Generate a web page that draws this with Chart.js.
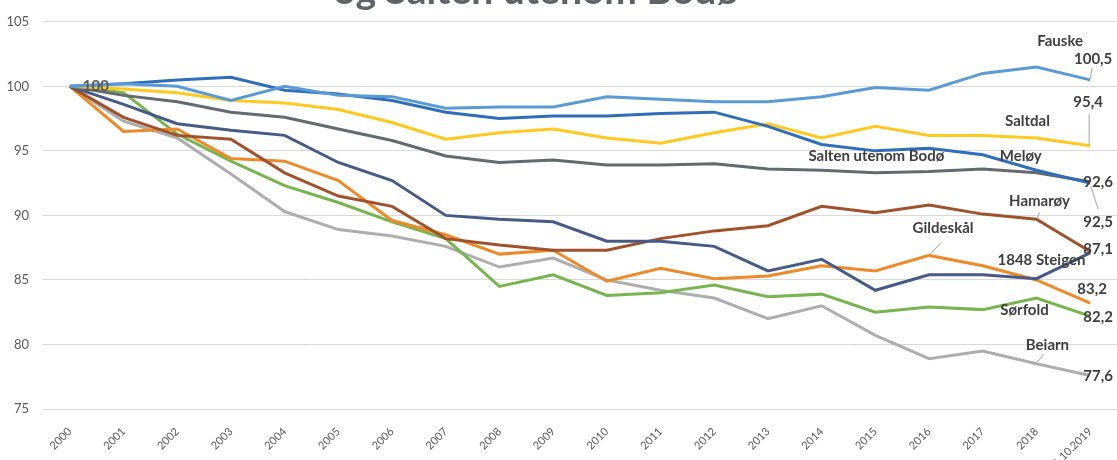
<!DOCTYPE html>
<html>
<head>
<meta charset="utf-8">
<title>Befolkningsutvikling Salten</title>
<script src="https://cdn.jsdelivr.net/npm/chart.js@4/dist/chart.umd.min.js"></script>
<style>
  body { margin: 0; background: #fff; }
  #wrap { width: 1117px; height: 460px; position: relative; }
</style>
</head>
<body>
<div id="wrap"><canvas id="popChart"></canvas></div>
<script>
// Indeks, 2000 = 100
const years = ['2000', '2001', '2002', '2003', '2004', '2005', '2006', '2007', '2008', '2009',
  '2010', '2011', '2012', '2013', '2014', '2015', '2016', '2017', '2018', '1.10.2019'];
const yTicks = [75, 80, 85, 90, 95, 100, 105];

const fauske    = [100, 100.2, 100.0, 98.9, 100.0, 99.3, 99.2, 98.3, 98.4, 98.4, 99.2, 99.0, 98.8, 98.8, 99.2, 99.9, 99.7, 101.0, 101.5, 100.5];
const meloy     = [100, 100.2, 100.5, 100.7, 99.7, 99.4, 98.9, 98.0, 97.5, 97.7, 97.7, 97.9, 98.0, 96.9, 95.5, 95.0, 95.2, 94.7, 93.5, 92.5];
const saltdal   = [100, 99.8, 99.5, 98.9, 98.7, 98.2, 97.2, 95.9, 96.4, 96.7, 96.0, 95.6, 96.4, 97.1, 96.0, 96.9, 96.2, 96.2, 96.0, 95.4];
const saltenUtenomBodo = [100, 99.3, 98.8, 98.0, 97.6, 96.7, 95.8, 94.6, 94.1, 94.3, 93.9, 93.9, 94.0, 93.6, 93.5, 93.3, 93.4, 93.6, 93.3, 92.6];
const steigen   = [100, 98.6, 97.1, 96.6, 96.2, 94.1, 92.7, 90.0, 89.7, 89.5, 88.0, 88.0, 87.6, 85.7, 86.6, 84.2, 85.4, 85.4, 85.1, 87.1];
const hamaroy   = [100, 97.6, 96.2, 95.9, 93.3, 91.5, 90.7, 88.2, 87.7, 87.3, 87.3, 88.2, 88.8, 89.2, 90.7, 90.2, 90.8, 90.1, 89.7, 87.2];
const gildeskal = [100, 96.5, 96.7, 94.4, 94.2, 92.7, 89.6, 88.5, 87.0, 87.3, 84.9, 85.9, 85.1, 85.3, 86.1, 85.7, 86.9, 86.1, 85.0, 83.2];
const sorfold   = [100, 99.5, 96.3, 94.2, 92.3, 91.0, 89.5, 88.2, 84.5, 85.4, 83.8, 84.0, 84.6, 83.7, 83.9, 82.5, 82.9, 82.7, 83.6, 82.2];
const beiarn    = [100, 97.3, 96.0, 93.2, 90.3, 88.9, 88.4, 87.6, 86.0, 86.7, 85.0, 84.2, 83.6, 82.0, 83.0, 80.7, 78.9, 79.5, 78.5, 77.6];

const fmt = v => v.toFixed(1).replace('.', ',');
const last = arr => arr[arr.length - 1];

// Etiketter: ds = datasett, i = punkt, dx/dy = forskyvning i piksler, lead = strek
const seriesLabels = [
  { ds: 0, i: 0,  text: '100', dx: 26, dy: 0, color: '#595959' },
  { ds: 0, i: 19, text: 'Fauske', dx: -30, dy: -39 },
  { ds: 0, i: 19, text: fmt(last(fauske)), dx: 3, dy: -21, lead: [0, -1, 2, -12] },
  { ds: 2, i: 18, text: 'Saltdal', dx: -9, dy: -17 },
  { ds: 2, i: 19, text: fmt(last(saltdal)), dx: -2, dy: -44, lead: [-1, -1, -1, -32] },
  { ds: 3, i: 15, text: 'Salten utenom Bodø', dx: 1, dy: -17 },
  { ds: 3, i: 19, text: fmt(last(saltenUtenomBodo)), dx: 8, dy: 0 },
  { ds: 1, i: 17, text: 'Meløy', dx: 38, dy: 1 },
  { ds: 1, i: 19, text: fmt(last(meloy)), dx: 8, dy: 39, lead: [1, 4, 8, 26] },
  { ds: 5, i: 18, text: 'Hamarøy', dx: 3, dy: -18, lead: [1, -1, 3, -7] },
  { ds: 5, i: 19, text: fmt(last(steigen)), dx: 8, dy: -2 },
  { ds: 4, i: 18, text: '1848 Steigen', dx: 5, dy: -18 },
  { ds: 6, i: 16, text: 'Gildeskål', dx: 14, dy: -27, lead: [1, -1, 12, -13] },
  { ds: 6, i: 19, text: fmt(last(gildeskal)), dx: 2, dy: -14 },
  { ds: 7, i: 18, text: 'Sørfold', dx: -12, dy: 12 },
  { ds: 7, i: 19, text: fmt(last(sorfold)), dx: 8, dy: 1 },
  { ds: 8, i: 18, text: 'Beiarn', dx: 11, dy: -19, lead: [1, -2, 7, -9] },
  { ds: 8, i: 19, text: fmt(last(beiarn)), dx: 8, dy: 1 }
];

const labelPlugin = {
  id: 'seriesLabels',
  afterDatasetsDraw(chart) {
    const ctx = chart.ctx;
    ctx.save();
    ctx.font = 'bold 15px Lato';
    ctx.textAlign = 'center';
    ctx.textBaseline = 'middle';
    seriesLabels.forEach(l => {
      const pt = chart.getDatasetMeta(l.ds).data[l.i];
      if (l.lead) {
        ctx.strokeStyle = '#a6a6a6';
        ctx.lineWidth = 1;
        ctx.beginPath();
        ctx.moveTo(pt.x + l.lead[0], pt.y + l.lead[1]);
        ctx.lineTo(pt.x + l.lead[2], pt.y + l.lead[3]);
        ctx.stroke();
      }
      ctx.fillStyle = l.color || '#404040';
      ctx.fillText(l.text, pt.x + l.dx, pt.y + l.dy);
    });
    // tittel, avskåret i toppen som i originalen
    ctx.font = 'bold 39px Lato';
    ctx.fillStyle = '#5f6368';
    ctx.textBaseline = 'alphabetic';
    ctx.fillText('og Salten utenom Bodø', 536, 4);
    ctx.restore();
  }
};

const line = (label, data, color) => ({
  label: label,
  data: data,
  borderColor: color,
  backgroundColor: color,
  borderWidth: 3,
  pointRadius: 0,
  tension: 0,
  fill: false
});

const ctx = document.getElementById('popChart').getContext('2d');
const popChart = new Chart(ctx, {
  type: 'line',
  data: {
    labels: years,
    datasets: [
      line('Fauske', fauske, '#5b9bd5'),
      line('Meløy', meloy, '#2f6eba'),
      line('Saltdal', saltdal, '#ffc91f'),
      line('Salten utenom Bodø', saltenUtenomBodo, '#646a70'),
      line('1848 Steigen', steigen, '#475b87'),
      line('Hamarøy', hamaroy, '#a0522d'),
      line('Gildeskål', gildeskal, '#ee8a2a'),
      line('Sørfold', sorfold, '#78b450'),
      line('Beiarn', beiarn, '#aeaeae')
    ]
  },
  options: {
    responsive: true,
    maintainAspectRatio: false,
    animation: false,
    layout: { padding: { top: 20, right: 0, left: 0, bottom: 0 } },
    plugins: {
      legend: { display: false },
      tooltip: { enabled: false }
    },
    scales: {
      x: {
        offset: true,
        grid: { display: false },
        border: { display: false },
        ticks: {
          minRotation: 45,
          maxRotation: 45,
          padding: 8,
          color: '#595959',
          font: { family: 'Lato', size: 11 }
        },
        afterFit(scale) { scale.height = 51; }
      },
      y: {
        min: 75,
        max: 105,
        afterBuildTicks(scale) { scale.ticks = yTicks.map(v => ({ value: v })); },
        grid: { color: '#d9d9d9', lineWidth: 1, drawTicks: false },
        border: { display: false },
        ticks: {
          padding: 14,
          color: '#595959',
          font: { family: 'Lato', size: 13 }
        },
        afterFit(scale) { scale.width = 43; }
      }
    }
  },
  plugins: [labelPlugin]
});
</script>
</body>
</html>
